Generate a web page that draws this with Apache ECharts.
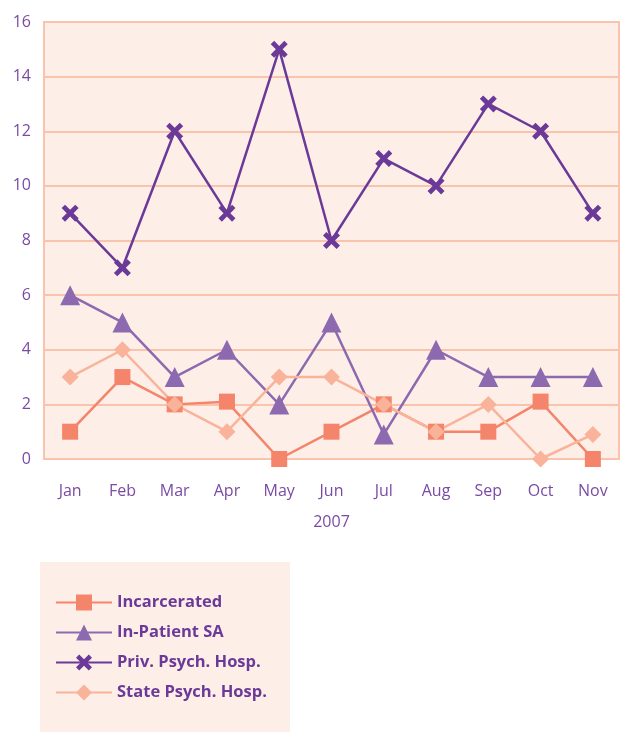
<!DOCTYPE html>
<html>
<head>
    <meta charset="utf-8">
    <title>2007</title>
    <script src="https://cdn.jsdelivr.net/npm/echarts@6/dist/echarts.min.js"></script>
    <style>
        body { margin: 0; background: #fff; }
    </style>
</head>
<body>
    <div id="main" style="width: 621px;height:732px;"></div>
    <script>
        var months = ['Jan', 'Feb', 'Mar', 'Apr', 'May', 'Jun', 'Jul', 'Aug', 'Sep', 'Oct', 'Nov'];
        var incarcerated = [1, 3, 2, 2.1, 0, 1, 2, 1, 1, 2.1, 0];
        var inPatientSA = [6, 5, 3, 4, 2, 5, 0.9, 4, 3, 3, 3];
        var privPsych = [9, 7, 12, 9, 15, 8, 11, 10, 13, 12, 9];
        var statePsych = [3, 4, 2, 1, 3, 3, 2, 1, 2, 0, 0.9];
        var yTicks = [0, 2, 4, 6, 8, 10, 12, 14, 16];

        var purple = '#6B3A98';
        var labelPurple = '#7A4BA3';
        var gridLine = '#F9C3AC';
        var fill = '#FDEFE8';
        // bold X marker
        var xPath = 'path://M0,4 L4,0 L10,6 L16,0 L20,4 L14,10 L20,16 L16,20 L10,14 L4,20 L0,16 L6,10 Z';

        var myChart = echarts.init(document.getElementById('main'));

        function line(name, data, color, symbol, size) {
            return {
                name: name,
                type: 'line',
                data: data,
                symbol: symbol,
                symbolSize: size,
                clip: false,
                lineStyle: { color: color, width: 2.5 },
                itemStyle: { color: color },
                emphasis: { disabled: true }
            };
        }

        option = {
            animation: false,
            graphic: [{
                type: 'rect',
                shape: { x: 40, y: 562, width: 250, height: 170 },
                style: { fill: fill }
            }],
            grid: {
                left: 44, right: 2, top: 22, bottom: 273,
                show: true,
                backgroundColor: fill,
                borderColor: gridLine,
                borderWidth: 2
            },
            legend: {
                orient: 'vertical',
                left: 50, top: 589,
                itemWidth: 56, itemHeight: 20,
                itemGap: 13,
                textStyle: { color: purple, fontFamily: 'Open Sans', fontWeight: 'bold', fontSize: 16.5 },
                data: ['Incarcerated', 'In-Patient SA', 'Priv. Psych. Hosp.', 'State Psych. Hosp.']
            },
            xAxis: {
                type: 'category',
                data: months,
                boundaryGap: true,
                name: '2007',
                nameLocation: 'middle',
                nameGap: 55,
                nameTextStyle: { color: labelPurple, fontFamily: 'Open Sans', fontSize: 16 },
                axisLine: { show: false },
                axisTick: { show: false },
                axisLabel: { color: labelPurple, fontFamily: 'Open Sans', fontSize: 16, margin: 24 }
            },
            yAxis: {
                type: 'value',
                min: yTicks[0],
                max: yTicks[yTicks.length - 1],
                interval: 2,
                axisLine: { show: false },
                axisTick: { show: false },
                splitLine: { lineStyle: { color: gridLine, width: 2 } },
                axisLabel: { color: labelPurple, fontFamily: 'Open Sans', fontSize: 16, margin: 13 }
            },
            series: [
                line('Incarcerated', incarcerated, '#F4846A', 'rect', 16),
                line('In-Patient SA', inPatientSA, '#8D69B0', 'triangle', 20),
                line('Priv. Psych. Hosp.', privPsych, purple, xPath, 17),
                line('State Psych. Hosp.', statePsych, '#F9B39A', 'diamond', 17)
            ]
        };
        myChart.setOption(option);
    </script>
</body>
</html>
